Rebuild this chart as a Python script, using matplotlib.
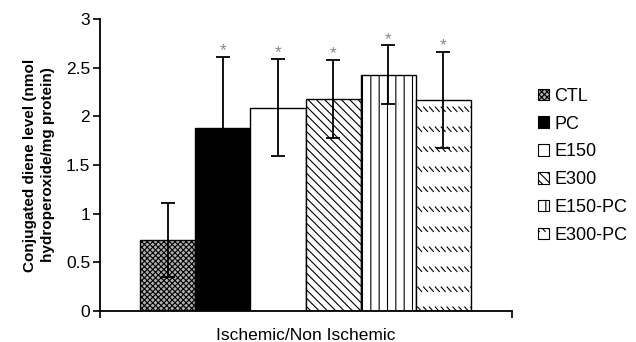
import warnings
import matplotlib
matplotlib.use("Agg")
import matplotlib.pyplot as plt
from matplotlib import hatch as mhatch
from matplotlib.path import Path
from matplotlib.patches import Patch

warnings.filterwarnings("ignore")
plt.rcParams['font.family'] = ['Liberation Sans', 'DejaVu Sans']
plt.rcParams['hatch.linewidth'] = 0.8


# rows of short "\" dashes, like the E300-PC fill in the original
class DashedDiag(mhatch.HatchPatternBase):
    def __init__(self, hatch, density):
        self.rows = hatch.count('d') * 5
        self.per_row = 17
        self.num_vertices = self.rows * self.per_row * 2

    def set_vertices_and_codes(self, vertices, codes):
        k = 0
        for r in range(self.rows):
            y0 = (r + 0.5) / self.rows
            for c in range(self.per_row):
                x0 = c / self.per_row
                vertices[k] = (x0, y0 + 0.03)
                vertices[k + 1] = (x0 + 0.04, y0 - 0.015)
                codes[k] = Path.MOVETO
                codes[k + 1] = Path.LINETO
                k += 2


mhatch._hatch_types.append(DashedDiag)

groups = ["CTL", "PC", "E150", "E300", "E150-PC", "E300-PC"]
values = [0.73, 1.88, 2.09, 2.18, 2.43, 2.17]
errors = [0.38, 0.73, 0.50, 0.40, 0.30, 0.49]
stars = ["", "*", "*", "*", "*", "*"]

colors = ["#b0b0b0", "black", "white", "white", "white", "white"]
hatches = ["xxxxxx", "", "", "\\\\\\\\", "||", "d"]

fig = plt.figure(figsize=(6.36, 3.42), dpi=100)
ax = fig.add_axes([0.157, 0.091, 0.648, 0.853])

xs = list(range(len(groups)))
for i in xs:
    ax.bar(xs[i], values[i], width=1.0, color=colors[i], edgecolor="black",
           hatch=hatches[i], linewidth=1.0, zorder=2)
    ax.errorbar(xs[i], values[i], yerr=errors[i], fmt="none", ecolor="black",
                elinewidth=1.3, capsize=5, capthick=1.3, zorder=3)
    if stars[i]:
        ax.annotate(stars[i], (xs[i], values[i] + errors[i]), xytext=(0, -1),
                    textcoords="offset points", ha="center", va="bottom",
                    color="#888888", fontsize=12.5)

ax.set_xlim(-1.23, 6.245)
ax.set_ylim(0, 3)
ax.set_yticks([0, 0.5, 1, 1.5, 2, 2.5, 3])
ax.set_yticklabels(["0", "0.5", "1", "1.5", "2", "2.5", "3"])
ax.set_xticks([-1.23, 6.245])
ax.set_xticklabels(["", ""])
ax.tick_params(axis="both", direction="out", length=5, width=1.2, labelsize=12.5)
ax.tick_params(axis="y", pad=2)
for s in ["top", "right"]:
    ax.spines[s].set_visible(False)
for s in ["left", "bottom"]:
    ax.spines[s].set_linewidth(1.3)

ax.set_ylabel("Conjugated diene level (nmol\nhydroperoxide/mg protein)",
              fontsize=11, fontweight="bold", labelpad=8, linespacing=1.3)
ax.set_xlabel("Ischemic/Non Ischemic", fontsize=12.5, labelpad=4)

handles = [Patch(facecolor=colors[i], edgecolor="black", hatch=hatches[i],
                 linewidth=0.8) for i in xs]
fig.legend(handles, groups, loc="upper left", bbox_to_anchor=(0.832, 0.77),
           frameon=False, fontsize=13, handlelength=0.6, handleheight=0.6,
           handletextpad=0.3, labelspacing=0.6, borderpad=0)

fig.savefig("out.png", dpi=100)
